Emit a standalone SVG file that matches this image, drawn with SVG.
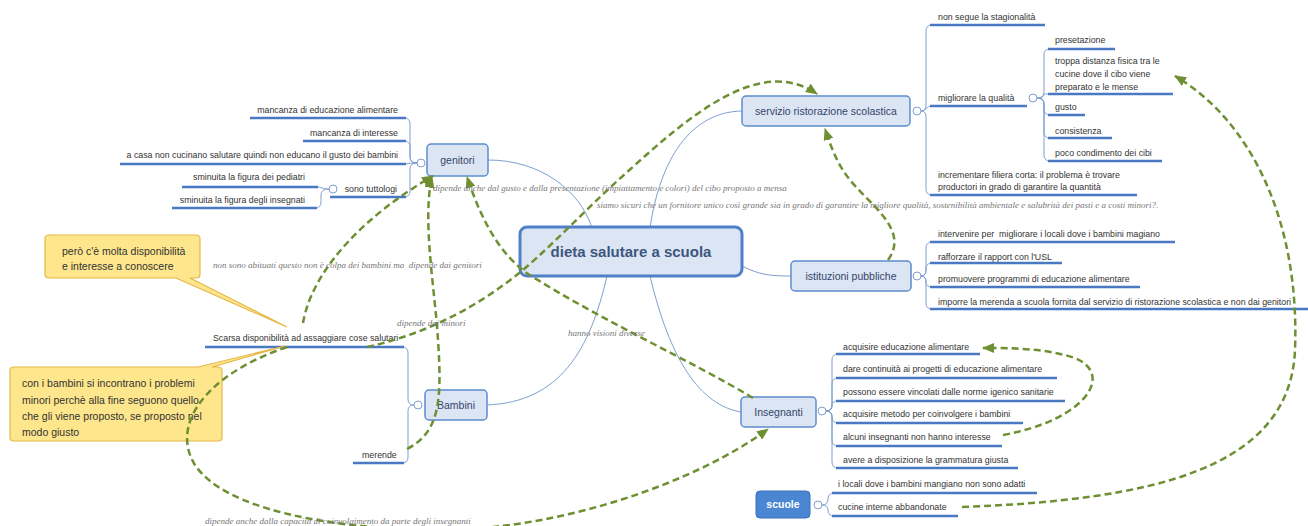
<svg xmlns="http://www.w3.org/2000/svg" width="1308" height="526" viewBox="0 0 1308 526">
<defs>
<marker id="ah" markerWidth="12" markerHeight="10" refX="11" refY="5" orient="auto" markerUnits="userSpaceOnUse"><path d="M0,0 L12,5 L0,10 z" fill="#6e8f32"/></marker>
<style>
.ul{stroke:#4a78c2;stroke-width:2.5;fill:none}
.br{stroke:#7f9fd0;stroke-width:1;fill:none}
.t{font-family:"Liberation Sans",Arial,sans-serif;font-size:8.8px;fill:#333}
.tr{text-anchor:end}
.lab{font-family:"Liberation Serif","Times New Roman",serif;font-style:italic;font-size:9px;fill:#777}
.dash{stroke:#6e8f32;stroke-width:2.5;stroke-dasharray:7 4;fill:none}
.nb{fill:#dbe5f3;stroke:#5d8cd0;stroke-width:1.5}
.nt{font-family:"Liberation Sans",Arial,sans-serif;font-size:10.5px;fill:#34466a;text-anchor:middle}
.circ{fill:#fff;stroke:#7f9fd0;stroke-width:1}
.co{fill:#fde68c;stroke:#e7b646;stroke-width:1.2}
.ct{font-family:"Liberation Sans",Arial,sans-serif;font-size:10.5px;fill:#333}
</style>
</defs>
<rect width="1308" height="526" fill="#fff"/>

<g id="connectors">
<path class="br" d="M592,228 C580,190 540,160 488,160"/>
<path class="br" d="M650,228 C660,160 690,112 742,111"/>
<path class="br" d="M742,266 C760,275 770,276 791,276"/>
<path class="br" d="M607,276 C590,350 560,402 487,405"/>
<path class="br" d="M650,276 C670,360 700,405 741,412"/>
</g>

<g id="servizio-branch">
<circle class="circ" cx="917" cy="111" r="4"/>
<path class="br" d="M921,111 Q926,111 926,105 V31 Q926,25 932,25"/>
<path class="br" d="M921,111 C926,111 926,106 932,106"/>
<path class="br" d="M921,111 Q926,111 926,117 V189 Q926,195 932,195"/>
<path class="ul" d="M930,25 H1045"/>
<path class="ul" d="M930,106 H1027"/>
<path class="ul" d="M930,195 H1137"/>
<text class="t" x="938" y="20">non segue la stagionalità</text>
<text class="t" x="938" y="101">migliorare la qualità</text>
<text class="t" x="938" y="178">incrementare filiera corta: il problema è trovare</text>
<text class="t" x="938" y="190">productori in grado di garantire la quantità</text>
<circle class="circ" cx="1033" cy="98" r="4"/>
<path class="br" d="M1037,98 Q1044,98 1044,92 V55 Q1044,49 1050,49"/>
<path class="br" d="M1037,98 Q1044,98 1044,94 Q1044,94 1050,94"/>
<path class="br" d="M1037,98 Q1044,98 1044,104 V109 Q1044,115 1050,115"/>
<path class="br" d="M1037,98 Q1044,98 1044,104 V132 Q1044,138 1050,138"/>
<path class="br" d="M1037,98 Q1044,98 1044,104 V155 Q1044,161 1050,161"/>
<path class="ul" d="M1048,49 H1115"/>
<path class="ul" d="M1048,94 H1173"/>
<path class="ul" d="M1048,115 H1085"/>
<path class="ul" d="M1048,138 H1112"/>
<path class="ul" d="M1048,161 H1162"/>
<text class="t" x="1055" y="43">presetazione</text>
<text class="t" x="1055" y="64">troppa distanza fisica tra le</text>
<text class="t" x="1055" y="77">cucine dove il cibo viene</text>
<text class="t" x="1055" y="90">preparato e le mense</text>
<text class="t" x="1055" y="110">gusto</text>
<text class="t" x="1055" y="134">consistenza</text>
<text class="t" x="1055" y="156">poco condimento dei cibi</text>
</g>

<g id="istituzioni-branch">
<circle class="circ" cx="917" cy="276" r="4"/>
<path class="br" d="M921,276 Q926,276 926,270 V248 Q926,242 932,242"/>
<path class="br" d="M921,276 Q926,276 926,270 V269 Q926,263 932,263"/>
<path class="br" d="M921,276 Q926,276 926,282 Q926,287 932,287"/>
<path class="br" d="M921,276 Q926,276 926,282 V303 Q926,309 932,309"/>
<path class="ul" d="M930,242 H1175"/>
<path class="ul" d="M930,263 H1062"/>
<path class="ul" d="M930,287 H1140"/>
<path class="ul" d="M930,309 H1308"/>
<text class="t" x="938" y="237">intervenire per&#160; migliorare i locali dove i bambini magiano</text>
<text class="t" x="938" y="260">rafforzare il rapport con l'USL</text>
<text class="t" x="938" y="282">promuovere programmi di educazione alimentare</text>
<text class="t" x="938" y="305">imporre la merenda a scuola fornita dal servizio di ristorazione scolastica e non dai genitori</text>
</g>

<g id="insegnanti-branch">
<circle class="circ" cx="822" cy="411" r="4"/>
<path class="br" d="M826,411 Q832,411 832,405 V360 Q832,354 838,354"/>
<path class="br" d="M826,411 Q832,411 832,405 V384 Q832,378 838,378"/>
<path class="br" d="M826,411 Q832,411 832,405 Q832,401 838,401"/>
<path class="br" d="M826,411 Q832,411 832,417 Q832,423 838,423"/>
<path class="br" d="M826,411 Q832,411 832,417 V440 Q832,446 838,446"/>
<path class="br" d="M826,411 Q832,411 832,417 V462 Q832,468 838,468"/>
<path class="ul" d="M836,354 H980"/>
<path class="ul" d="M836,378 H1057"/>
<path class="ul" d="M836,401 H1065"/>
<path class="ul" d="M836,423 H1023"/>
<path class="ul" d="M836,446 H1002"/>
<path class="ul" d="M836,468 H1018"/>
<text class="t" x="843" y="350">acquisire educazione alimentare</text>
<text class="t" x="843" y="372">dare continuità ai progetti di educazione alimentare</text>
<text class="t" x="843" y="395">possono essere vincolati dalle norme igenico sanitarie</text>
<text class="t" x="843" y="417">acquisire metodo per coinvolgere i bambini</text>
<text class="t" x="843" y="440">alcuni insegnanti non hanno interesse</text>
<text class="t" x="843" y="463">avere a disposizione la grammatura giusta</text>
</g>

<g id="scuole-branch">
<circle class="circ" cx="818" cy="505" r="4"/>
<path class="br" d="M822,505 Q828,505 828,499 Q828,493 834,493"/>
<path class="br" d="M822,505 Q828,505 828,510 Q828,516 834,516"/>
<path class="ul" d="M832,493 H1037"/>
<path class="ul" d="M832,516 H958"/>
<text class="t" x="838" y="487">i locali dove i bambini mangiano non sono adatti</text>
<text class="t" x="838" y="510">cucine interne abbandonate</text>
</g>

<g id="genitori-branch">
<circle class="circ" cx="421" cy="163" r="4"/>
<path class="br" d="M417,163 Q410,163 410,157 V124 Q410,118 404,118"/>
<path class="br" d="M417,163 Q410,163 410,157 V147 Q410,141 404,141"/>
<path class="br" d="M417,163 Q410,163 404,164"/>
<path class="br" d="M417,163 Q410,163 410,169 V191 Q410,197 404,197"/>
<path class="ul" d="M250,118 H406"/>
<path class="ul" d="M303,141 H406"/>
<path class="ul" d="M120,164 H406"/>
<path class="ul" d="M330,197 H406"/>
<text class="t tr" x="398" y="113">mancanza di educazione alimentare</text>
<text class="t tr" x="398" y="136">mancanza di interesse</text>
<text class="t tr" x="398" y="158">a casa non cucinano salutare quindi non educano il gusto dei bambini</text>
<text class="t tr" x="397" y="192">sono tuttologi</text>
<circle class="circ" cx="333" cy="189" r="4"/>
<path class="br" d="M329,189 C322,189 322,187 316,187"/>
<path class="br" d="M329,189 Q321,189 321,195 V202 Q321,208 315,208"/>
<path class="ul" d="M182,187 H318"/>
<path class="ul" d="M172,208 H317"/>
<text class="t tr" x="305" y="180">sminuita la figura dei pediatri</text>
<text class="t tr" x="305" y="203">sminuita la figura degli insegnati</text>
</g>

<g id="bambini-branch">
<circle class="circ" cx="418" cy="405" r="4"/>
<path class="br" d="M414,405 Q408,405 408,399 V353 Q408,347 402,347"/>
<path class="br" d="M414,405 Q408,405 408,411 V457 Q408,463 402,463"/>
<path class="ul" d="M205,347 H404"/>
<path class="ul" d="M353,463 H404"/>
<text class="t" x="213" y="341">Scarsa disponibilità ad assaggiare cose salutari</text>
<text class="t" x="362" y="458">merende</text>
</g>

<g id="central">
<rect x="520" y="227" width="222" height="49" rx="7" fill="#dbe5f3" stroke="#4f80c8" stroke-width="3"/>
<text x="631" y="257" font-family="Liberation Sans, Arial, sans-serif" font-size="15" font-weight="bold" fill="#3d5680" text-anchor="middle">dieta salutare a scuola</text>
</g>
<g id="genitori">
<rect class="nb" x="427" y="144" width="61" height="32" rx="4"/>
<text class="nt" x="457.5" y="164">genitori</text>
</g>
<g id="servizio">
<rect class="nb" x="742" y="96" width="168" height="30" rx="4"/>
<text class="nt" x="826" y="115">servizio ristorazione scolastica</text>
</g>
<g id="istituzioni">
<rect class="nb" x="791" y="261" width="120" height="30" rx="4"/>
<text class="nt" x="851" y="280">istituzioni pubbliche</text>
</g>
<g id="insegnanti">
<rect class="nb" x="741" y="397" width="75" height="30" rx="4"/>
<text class="nt" x="778.5" y="416">Insegnanti</text>
</g>
<g id="bambini">
<rect class="nb" x="425" y="390" width="62" height="30" rx="4"/>
<text class="nt" x="456" y="409">Bambini</text>
</g>
<g id="scuole">
<rect x="756" y="491" width="54" height="27" rx="4" fill="#4a86d2" stroke="#3a70bc" stroke-width="1"/>
<text x="783" y="508" font-family="Liberation Sans, Arial, sans-serif" font-size="10.5" font-weight="bold" fill="#fff" text-anchor="middle">scuole</text>
</g>

<g id="callout1">
<path class="co" d="M49,235 H196 Q200,235 200,239 V274 Q200,278 196,278 H190 L287,327 L176,278 H49 Q45,278 45,274 V239 Q45,235 49,235 Z"/>
<text class="ct" x="62" y="255">però c'è molta disponibilità</text>
<text class="ct" x="62" y="270">e interesse a conoscere</text>
</g>
<g id="callout2">
<path class="co" d="M14,367 H198 L285,346 L212,367 H218 Q222,367 222,371 V437 Q222,441 218,441 H14 Q10,441 10,437 V371 Q10,367 14,367 Z"/>
<text class="ct" x="22" y="387">con i bambini si incontrano i problemi</text>
<text class="ct" x="22" y="404">minori perchè alla fine seguono quello</text>
<text class="ct" x="22" y="420">che gli viene proposto, se proposto nel</text>
<text class="ct" x="22" y="436">modo giusto</text>
</g>

<g id="relationships">
<path class="dash" marker-end="url(#ah)" d="M303,323 C312,270 365,215 433,176"/>
<path class="dash" marker-end="url(#ah)" d="M407,449 C440,432 442,400 438,340 C435,290 422,220 432,177"/>
<path class="dash" marker-end="url(#ah)" d="M753,398 C690,360 600,320 525,272 C495,248 480,215 467,177"/>
<path class="dash" marker-end="url(#ah)" d="M367,347 C430,333 480,305 523,270 C560,238 590,205 625,174 C690,115 760,55 817,94"/>
<path class="dash" marker-end="url(#ah)" d="M888,260 C910,230 870,205 850,180 C838,165 832,150 825,129"/>
<path class="dash" marker-end="url(#ah)" d="M962,507 C1150,500 1290,470 1295,350 C1300,220 1250,120 1175,76"/>
<path class="dash" marker-end="url(#ah)" d="M1003,435 C1085,420 1115,375 1075,358 C1045,348 1010,348 983,348"/>
<path class="dash" marker-end="url(#ah)" d="M287,347 C205,375 170,425 195,465 C225,510 330,528 430,530 C560,532 700,480 768,429"/>
<text class="lab" x="433" y="191">dipende anche dal gusto e dalla presentazione (impiattamento e colori) del cibo proposto a mensa</text>
<text class="lab" x="597" y="208">siamo sicuri che un fornitore unico così grande sia in grado di garantire la migliore qualità, sostenibilità ambientale e salubrità dei pasti e a costi minori?.</text>
<text class="lab" x="213" y="268">non sono abituati questo non è colpa dei bambini ma&#160; dipende dai genitori</text>
<text class="lab" x="397" y="326">dipende dai minori</text>
<text class="lab" x="568" y="336">hanno visioni diverse</text>
<text class="lab" x="205" y="524" font-size="8">dipende anche dalla capacità di coinvolgimento da parte degli insegnanti</text>
</g>
</svg>
